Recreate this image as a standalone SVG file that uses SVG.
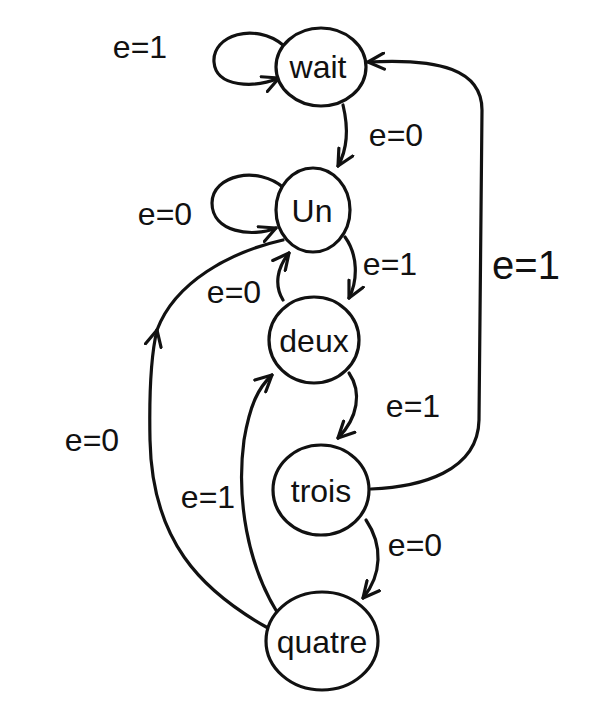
<svg xmlns="http://www.w3.org/2000/svg" width="615" height="713" viewBox="0 0 615 713">
<defs>
<marker id="arr" viewBox="0 0 12 12" refX="11" refY="6" markerWidth="6" markerHeight="6" orient="auto" markerUnits="strokeWidth">
<path d="M1,1 L11,6 L1,11" fill="none" stroke="#111" stroke-width="2" stroke-linecap="round" stroke-linejoin="round"/>
</marker>
<style>
.n{fill:#fff;stroke:#111;stroke-width:3.2}
.t{font-family:"Liberation Sans","DejaVu Sans",sans-serif;font-size:32px;fill:#111;text-anchor:middle}
.l{font-family:"Liberation Sans","DejaVu Sans",sans-serif;font-size:32px;fill:#111;text-anchor:middle}
.e{fill:none;stroke:#111;stroke-width:3.2;stroke-linecap:round}
</style>
</defs>
<rect width="615" height="713" fill="#fff"/>
<g id="connectors">
<path class="e" d="M283 45 C255 22 212 35 214 62 C216 88 255 88 279 78" marker-end="url(#arr)"/>
<path class="e" d="M343 105 C349 130 347 150 338 166" marker-end="url(#arr)"/>
<path class="e" d="M284 188 C258 165 212 175 212 203 C212 232 252 238 276 228" marker-end="url(#arr)"/>
<path class="e" d="M345 237 C358 255 358 280 349 298" marker-end="url(#arr)"/>
<path class="e" d="M283 300 C274 285 277 268 289 253" marker-end="url(#arr)"/>
<path class="e" d="M349 373 C362 392 358 418 338 438" marker-end="url(#arr)"/>
<path class="e" d="M371 489 C420 487 478 472 479 420 L482 110 C482 70 440 58 368 62" marker-end="url(#arr)"/>
<path class="e" d="M366 520 C383 545 382 575 363 598" marker-end="url(#arr)"/>
<path class="e" d="M268 628 C200 590 152 540 150 440 C149 390 151 355 157 330" marker-end="url(#arr)"/>
<path class="e" d="M157 330 C175 282 230 252 283 240"/>
<path class="e" d="M277 612 C248 565 236 500 244 440 C250 405 258 388 272 375" marker-end="url(#arr)"/>
</g>
<g id="wait"><ellipse class="n" cx="321" cy="67" rx="45" ry="39"/><text class="t" x="318" y="78">wait</text></g>
<g id="un"><ellipse class="n" cx="313" cy="210" rx="37" ry="42"/><text class="t" x="312" y="222">Un</text></g>
<g id="deux"><ellipse class="n" cx="314" cy="340" rx="45" ry="43"/><text class="t" x="314" y="352">deux</text></g>
<g id="trois"><ellipse class="n" cx="321" cy="490" rx="48" ry="45"/><text class="t" x="321" y="502">trois</text></g>
<g id="quatre"><ellipse class="n" cx="322" cy="641" rx="56" ry="49"/><text class="t" x="322" y="653">quatre</text></g>
<g id="labels">
<text class="l" x="140" y="58">e=1</text>
<text class="l" x="396" y="146">e=0</text>
<text class="l" x="165" y="225">e=0</text>
<text class="l" x="390" y="275">e=1</text>
<text class="l" x="234" y="303">e=0</text>
<text class="l" x="413" y="417">e=1</text>
<text class="l" x="526" y="279" style="font-size:40px">e=1</text>
<text class="l" x="92" y="451">e=0</text>
<text class="l" x="208" y="508">e=1</text>
<text class="l" x="415" y="556">e=0</text>
</g>
</svg>
